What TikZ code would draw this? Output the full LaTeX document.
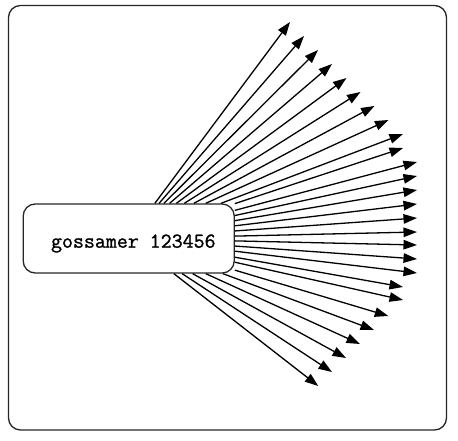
\documentclass[tikz,border=0pt]{standalone}
\usepackage{fontspec}
\newfontfamily\gmono[FakeBold=1.2]{Latin Modern Mono}
\usetikzlibrary{arrows.meta}
\begin{document}
\begin{tikzpicture}[x=1pt,y=-1pt,
  frame/.style={draw=black!85,line width=1.3pt,rounded corners=12pt},
  boxnode/.style={draw=black!85,line width=1.3pt,rounded corners=12pt,minimum width=211pt,minimum height=69pt,inner sep=0pt},
  lbl/.style={font=\fontsize{21.3pt}{23pt}\gmono,inner sep=0pt},
  arr/.style={draw=black,line width=1.3pt,-{Triangle[length=13.5pt,width=9.5pt]}}]
\useasboundingbox (0,0) rectangle (458,441);
\draw[frame] (8.5,5.5) rectangle (446.5,430);
\node[boxnode] (box) at (128.7,238.5) {};
\node[lbl,anchor=base] (text) at (133.3,247.7) {gossamer 123456};
\foreach \i/\x/\y in {1/290/22,2/304/36,3/318/50,4/332/64,5/346.5/78,6/360.5/92,7/374.5/106,8/388.5/120,
  9/403/134,10/403/148,
  11/417/162,12/417/176,13/417/190,14/417/204,15/417/218,16/417/232,17/417/245,18/417/259,19/417/273,
  20/403/287,21/403/300,
  22/388.3/316,23/374/330,24/360/344,25/346/358,26/332/372,27/318.3/386}
  \coordinate (t\i) at (\x,\y);
\foreach \i in {1,...,27}
  \draw[arr] (box) -- (t\i);
\end{tikzpicture}
\end{document}
